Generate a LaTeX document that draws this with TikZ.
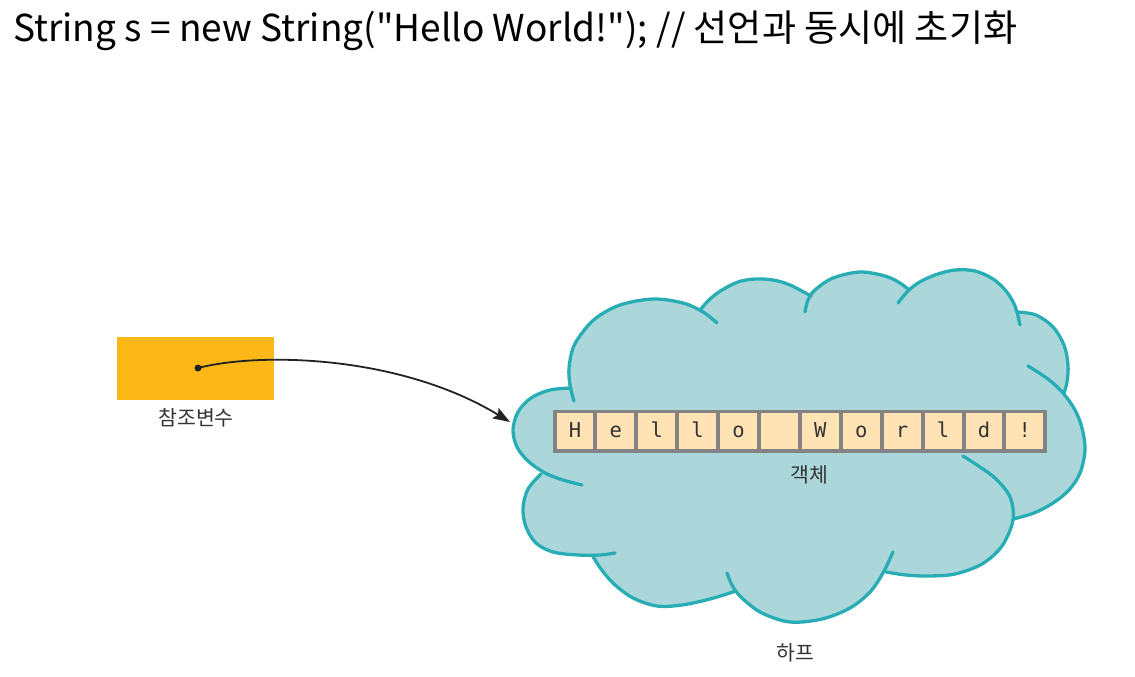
\documentclass[tikz,border=0pt]{standalone}
\usepackage{graphicx}
\usepackage{fontspec}
\setmainfont{Noto Sans CJK KR}
\newfontfamily\titlefont{Noto Sans CJK KR}[Ligatures=TeXOff]
\newfontfamily\cellmono{DejaVu Sans Mono}
\usetikzlibrary{arrows.meta}
\definecolor{cloudfillc}{HTML}{ABD7DB}
\definecolor{cloudlinec}{HTML}{29ADB5}
\definecolor{refor}{HTML}{FBB817}
\definecolor{cellfillc}{HTML}{FFE3B5}
\definecolor{cellgray}{HTML}{838383}
\definecolor{txtc}{HTML}{333333}
\definecolor{arrowc}{HTML}{222222}

\newcommand\cloudlist{%
{(571,388) (550,390) (531,398) (518,412) (513,430) (517,447) (528,461) (545,473) (563,480) (582,485)},%
{(541,474) (528,489) (523,508) (526,527) (536,543) (553,552) (578,555) (600,555) (615,553)},%
{(592,555) (601,569) (614,584) (633,598) (657,606) (682,605) (710,599) (736,591)},%
{(727,573) (733,587) (743,599) (762,613) (790,622) (822,619) (850,608) (870,592) (883,573) (893,552)},%
{(886,572) (906,575) (928,576) (955,574) (982,564) (1002,546) (1013,520) (1010,497) (996,479) (980,467) (963,456)},%
{(1013,519) (1034,513) (1053,503) (1069,490) (1080,473) (1085,450) (1082,428) (1075,410) (1063,393) (1048,379) (1028,366)},%
{(1017,312) (1036,315) (1053,327) (1064,345) (1068,365) (1067,382) (1064,393)},%
{(898,303) (907,292) (918,283) (935,275) (955,270) (975,271) (993,279) (1006,291) (1015,306) (1020,325)},%
{(805,312) (808,300) (815,290) (833,278) (860,272) (885,276) (900,283) (909,290)},%
{(700,310) (710,299) (722,290) (738,282) (755,279) (773,280) (790,285) (811,296)},%
{(574,401) (570,385) (569,368) (573,348) (582,333) (596,318) (620,305) (653,299) (683,303) (703,312) (717,323)}%
}

\begin{document}
\begin{tikzpicture}[x=1pt,y=-1pt,
  cloudarea/.style={fill=cloudfillc,draw=cloudfillc,line width=1.2pt,line join=round},
  cloudedge/.style={draw=cloudlinec,line width=3.3pt,line cap=round},
  cell/.style={rectangle,fill=cellfillc,minimum width=36.9pt,minimum height=35.7pt,inner sep=0pt,
     text height=14pt,text depth=1.5pt,font=\cellmono\fontsize{20.5}{20}\selectfont,text=txtc},
  lbl/.style={inner sep=0pt,text=txtc,font=\fontsize{20.5}{22}\selectfont},
  arrowline/.style={draw=arrowc,line width=1.8pt,-{Stealth[length=17pt,width=12pt,inset=3pt]}}]
\useasboundingbox (0,0) rectangle (1135,677);

% title
\node[anchor=base west,inner sep=0pt] (title) at (13,42)
  {\resizebox{1004pt}{!}{\titlefont\fontsize{34}{40}\selectfont String s = new String("Hello World!"); // 선언과 동시에 초기화}};

% reference variable
\node[rectangle,fill=refor,minimum width=157pt,minimum height=63pt,inner sep=0pt] (refbox) at (195.5,368.5) {};
\node[lbl] (reflabel) at (196,418) {참조변수};
\node[circle,fill=arrowc,inner sep=0pt,minimum size=7pt] (dot) at (198,368) {};

% cloud (heap)
\filldraw[cloudarea] (571,388) -- (700,310) -- (811,296) -- (909,290) -- (1017,312) -- (1064,393)
  -- (1013,519) -- (886,572) -- (736,591) -- (592,555) -- (541,474) -- cycle;
\foreach \p in \cloudlist {
  \edef\cloudtmp{\noexpand\filldraw[cloudarea] plot[smooth,tension=0.55] coordinates {\p} -- cycle;}\cloudtmp
}
\foreach \p in \cloudlist {
  \edef\cloudtmp{\noexpand\draw[cloudedge] plot[smooth,tension=0.55] coordinates {\p};}\cloudtmp
}

% string object
\node[rectangle,fill=cellgray,minimum width=494pt,minimum height=42.5pt,inner sep=0pt] (strbox) at (800,431.25) {};
\foreach \ch [count=\i from 0] in {H,e,l,l,o,{},W,o,r,l,d,!} {
  \node[cell] (c\i) at ({574.95+40.9*\i},431.25) {\ch};
}
\node[lbl] (objlabel) at (809,475) {객체};
\node[lbl] (heaplabel) at (795,653) {하프};

% reference arrow
\coordinate (tip) at (510,422);
\draw[arrowline] (dot.center) .. controls (260,352) and (400,355) .. (tip);
\end{tikzpicture}
\end{document}
